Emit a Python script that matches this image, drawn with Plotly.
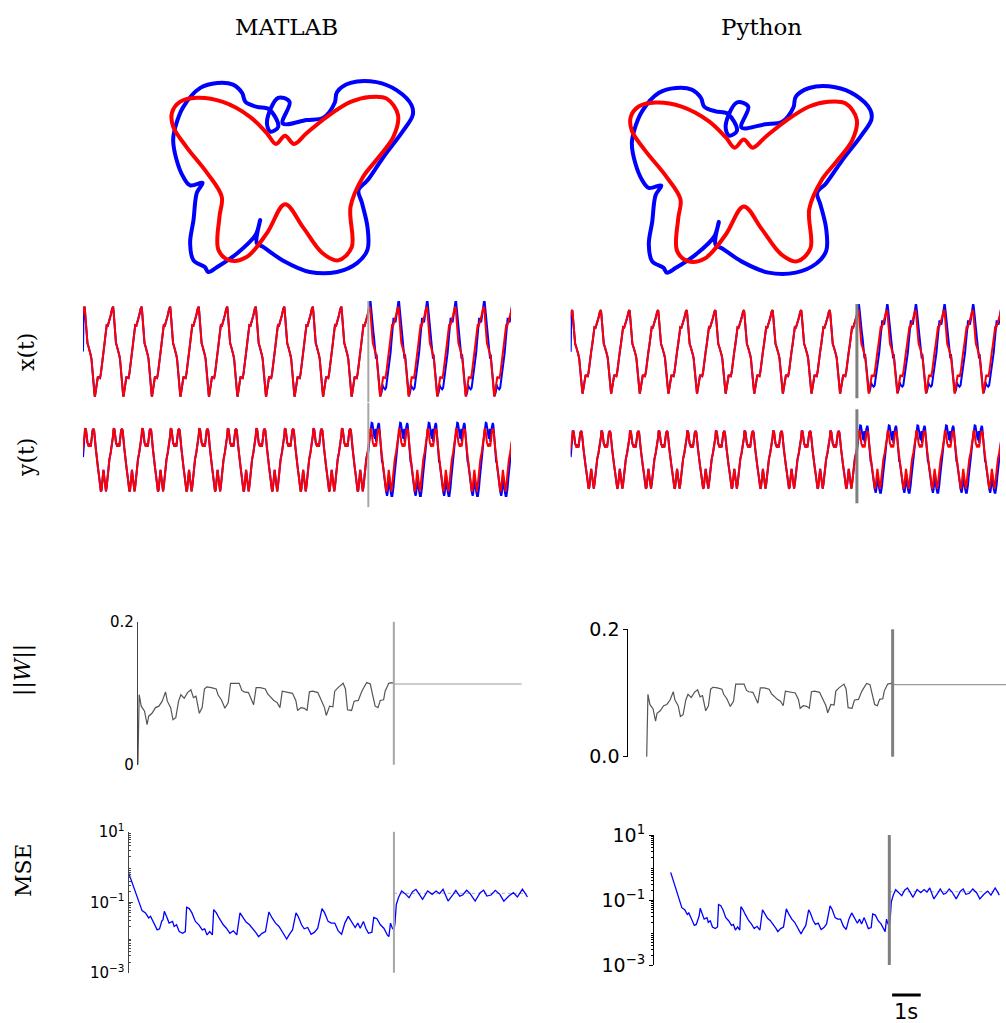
import plotly.graph_objects as go

FIG_W, FIG_H = 1006, 1023

# ---------------- data ----------------
COLUMN_TITLES = ["MATLAB", "Python"]
ROW_LABELS = ["x(t)", "y(t)", "||<i>W</i>||", "MSE"]

T_TRAIN = 10.0      # s, end of the training phase
T_END = 15.0        # s, end of the run
TIP_T0 = 0.056      # s, time of the first maximum of x(t)

# target trajectory (red), one 1 s period; phase in cycles
TARGET_PHASE = [0.000, 0.015, 0.035, 0.052, 0.070, 0.100, 0.150, 0.190, 0.215, 0.240,
                0.258, 0.280, 0.310, 0.333, 0.355, 0.365, 0.390, 0.420, 0.465, 0.500,
                0.540, 0.570, 0.593, 0.625, 0.660, 0.695, 0.725, 0.750, 0.775, 0.815,
                0.870, 0.915, 0.965]
TARGET_X = [1.00, 0.90, 0.75, 0.58, 0.37, 0.19, 0.08, 0.00, -0.08, -0.16,
            -0.31, -0.55, -0.78, -0.93, -1.00, -0.99, -0.87, -0.69, -0.56, -0.58,
            -0.59, -0.49, -0.34, -0.16, 0.00, 0.16, 0.33, 0.47, 0.59, 0.58,
            0.69, 0.81, 0.96]
TARGET_Y = [0.78, 0.98, 1.00, 0.94, 0.76, 0.56, 0.43, 0.53, 0.43, 0.56,
            0.76, 0.94, 0.99, 0.94, 0.81, 0.64, 0.39, 0.08, -0.21, -0.45,
            -0.85, -0.98, -0.94, -0.65, -0.30, -0.58, -0.89, -0.98, -0.82, -0.33,
            0.03, 0.24, 0.52]

# network output during the test phase (blue), one period
OUTPUT_PHASE = [0.000, 0.020, 0.040, 0.060, 0.085, 0.105, 0.120, 0.140, 0.160, 0.180,
                0.190, 0.200, 0.210, 0.220, 0.230, 0.240, 0.250, 0.262, 0.272, 0.285,
                0.305, 0.325, 0.345, 0.360, 0.372, 0.390, 0.410, 0.425, 0.440, 0.455,
                0.490, 0.530, 0.565, 0.585, 0.600, 0.615, 0.645, 0.665, 0.675, 0.685,
                0.700, 0.725, 0.755, 0.785, 0.805, 0.825, 0.850, 0.875, 0.895, 0.915,
                0.945, 0.975]
OUTPUT_X = [1.13, 1.12, 0.99, 0.81, 0.58, 0.46, 0.44, 0.34, 0.19, -0.02,
            0.04, -0.06, -0.16, -0.13, -0.06, -0.14, -0.25, -0.35, -0.38, -0.46,
            -0.60, -0.75, -0.90, -0.97, -0.99, -0.96, -0.90, -0.84, -0.73, -0.78,
            -0.81, -0.84, -0.81, -0.71, -0.68, -0.60, -0.42, -0.26, -0.22, -0.25,
            -0.19, -0.02, 0.22, 0.46, 0.64, 0.73, 0.73, 0.68, 0.65, 0.73,
            0.87, 1.04]
OUTPUT_Y = [0.78, 0.90, 1.08, 1.18, 1.17, 1.06, 0.93, 0.75, 0.72, 0.68,
            0.94, 0.99, 0.70, 0.58, 0.64, 0.85, 0.88, 0.94, 1.05, 1.15,
            1.17, 1.11, 0.88, 0.64, 0.48, 0.24, 0.03, -0.07, -0.04, -0.16,
            -0.49, -0.77, -0.98, -1.06, -1.12, -1.06, -0.89, -0.67, -0.49, -0.77,
            -0.82, -0.98, -1.12, -1.12, -1.01, -0.85, -0.58, -0.28, -0.13, -0.01,
            0.27, 0.58]
OUTPUT_X0, OUTPUT_Y0 = 0.0, 0.10

# norm of the readout weights during training
W_TIME = [0, 0.05, 0.13, 0.26, 0.36, 0.42, 0.55, 0.69, 0.82, 0.95, 1.08, 1.15, 1.28, 1.37,
          1.48, 1.59, 1.68, 1.81, 1.94, 2.07, 2.17, 2.27, 2.40, 2.51, 2.60, 2.69, 2.87,
          3.00, 3.06, 3.13, 3.26, 3.40, 3.53, 3.62, 3.79, 3.96, 4.06, 4.15, 4.32, 4.45,
          4.52, 4.62, 4.78, 4.98, 5.07, 5.18, 5.31, 5.44, 5.55, 5.64, 5.84, 6.04, 6.17,
          6.24, 6.37, 6.50, 6.61, 6.70, 6.83, 7.03, 7.13, 7.29, 7.36, 7.49, 7.62, 7.69,
          7.82, 8.02, 8.11, 8.19, 8.35, 8.45, 8.61, 8.75, 8.94, 9.08, 9.14, 9.27, 9.38,
          9.47, 9.60, 9.66, 9.80, 9.93, 10.0]
W_NORM = [0.0, 0.098, 0.082, 0.075, 0.056, 0.068, 0.072, 0.080, 0.082, 0.089, 0.102,
          0.089, 0.080, 0.063, 0.066, 0.089, 0.098, 0.093, 0.101, 0.105, 0.094, 0.096,
          0.072, 0.080, 0.106, 0.109, 0.108, 0.107, 0.106, 0.098, 0.091, 0.079, 0.087,
          0.114, 0.114, 0.114, 0.104, 0.102, 0.101, 0.090, 0.084, 0.108, 0.108, 0.106,
          0.099, 0.095, 0.090, 0.087, 0.080, 0.103, 0.102, 0.100, 0.090, 0.076, 0.080,
          0.079, 0.076, 0.102, 0.103, 0.101, 0.093, 0.080, 0.069, 0.082, 0.081, 0.103,
          0.108, 0.114, 0.106, 0.077, 0.076, 0.089, 0.090, 0.103, 0.115, 0.113, 0.103,
          0.082, 0.080, 0.090, 0.091, 0.103, 0.114, 0.115, 0.114]
W_TEST = 0.113

# mean squared error of the output
MSE_TIME = [0.00, 0.13, 0.25, 0.38, 0.51, 0.64, 0.76, 0.83, 0.96, 1.08, 1.17, 1.25, 1.30,
            1.35, 1.43, 1.53, 1.66, 1.72, 1.81, 1.91, 2.04, 2.14, 2.19, 2.29, 2.39, 2.52,
            2.65, 2.78, 2.87, 2.96, 3.06, 3.16, 3.21, 3.31, 3.41, 3.57, 3.69, 3.82, 3.95,
            4.08, 4.20, 4.31, 4.43, 4.56, 4.69, 4.82, 4.90, 5.03, 5.16, 5.29, 5.41, 5.54,
            5.67, 5.80, 5.96, 6.05, 6.18, 6.31, 6.39, 6.52, 6.62, 6.75, 6.88, 7.01, 7.13,
            7.29, 7.39, 7.52, 7.64, 7.77, 7.90, 8.03, 8.15, 8.28, 8.41, 8.54, 8.64, 8.73,
            8.85, 8.94, 9.04, 9.17, 9.24, 9.36, 9.49, 9.62, 9.75, 9.81, 9.87, 9.94, 10.00,
            10.04, 10.09, 10.17, 10.29, 10.42, 10.57, 10.70, 10.83, 10.96, 11.08, 11.27,
            11.44, 11.59, 11.72, 11.85, 12.04, 12.23, 12.33, 12.48, 12.59, 12.74, 12.87,
            13.06, 13.25, 13.38, 13.50, 13.66, 13.82, 13.99, 14.14, 14.33, 14.50, 14.65,
            14.84, 14.97, 15.03]
MSE_VALUE = [0.706, 0.364, 0.188, 0.108, 0.058, 0.050, 0.036, 0.040, 0.026, 0.0165, 0.0177,
             0.0287, 0.0321, 0.0557, 0.040, 0.0257, 0.0287, 0.0206, 0.0230, 0.0148, 0.0132,
             0.0148, 0.0726, 0.0665, 0.050, 0.0287, 0.0230, 0.0165, 0.0177, 0.0119, 0.0148,
             0.0119, 0.0622, 0.050, 0.036, 0.023, 0.0184, 0.0132, 0.0155, 0.0119, 0.050,
             0.036, 0.0275, 0.023, 0.0177, 0.0132, 0.0106, 0.0132, 0.0148, 0.0533, 0.036,
             0.0257, 0.0206, 0.0148, 0.0091, 0.0119, 0.0165, 0.050, 0.040, 0.023, 0.0177,
             0.0193, 0.0124, 0.0142, 0.0184, 0.0665, 0.050, 0.0287, 0.0257, 0.0257, 0.0155,
             0.0124, 0.0257, 0.040, 0.0287, 0.0193, 0.0257, 0.0184, 0.0287, 0.0184, 0.0132,
             0.0142, 0.0374, 0.0343, 0.023, 0.0184, 0.0119, 0.0106, 0.0257, 0.0184, 0.0165,
             0.0257, 0.0867, 0.135, 0.209, 0.176, 0.135, 0.200, 0.234, 0.168, 0.121, 0.209,
             0.168, 0.209, 0.176, 0.234, 0.108, 0.168, 0.219, 0.150, 0.161, 0.219, 0.176,
             0.108, 0.188, 0.219, 0.150, 0.161, 0.219, 0.168, 0.108, 0.150, 0.188, 0.141,
             0.234, 0.168, 0.141]
MSE_TEST_MEAN = 0.18

SCALE_BAR_S = 1.0
SCALE_BAR_LABEL = "1s"


# ---------------- series built from the data ----------------
def tile(phase, vals, t_from, t_to):
    ts, vs = [], []
    for k in range(-2, 17):
        for p, v in zip(phase, vals):
            t = k + TIP_T0 + p
            if t_from <= t <= t_to:
                ts.append(t)
                vs.append(v)
    return ts, vs


t_red, x_red = tile(TARGET_PHASE, TARGET_X, -0.3, T_END + 0.3)
_, y_red = tile(TARGET_PHASE, TARGET_Y, -0.3, T_END + 0.3)
t_tr, x_tr = tile(TARGET_PHASE, TARGET_X, 0.02, T_TRAIN)
_, y_tr = tile(TARGET_PHASE, TARGET_Y, 0.02, T_TRAIN)
t_te, x_te = tile(OUTPUT_PHASE, OUTPUT_X, T_TRAIN, T_END + 0.3)
_, y_te = tile(OUTPUT_PHASE, OUTPUT_Y, T_TRAIN, T_END + 0.3)
t_blue = [0.0] + t_tr + t_te
x_blue = [OUTPUT_X0] + x_tr + x_te
y_blue = [OUTPUT_Y0] + y_tr + y_te

w_train_t = [t for t in W_TIME if t <= T_TRAIN]
w_train_v = W_NORM[:len(w_train_t)]


# ---------------- layout helpers ----------------
def fx(p):
    return p / FIG_W


def fy(p):
    return 1 - p / FIG_H


RED = "#ff0000"
BLUE = "#0000ff"
SERIF = "DejaVu Serif"
SANS = "DejaVu Sans"

# panel geometry per column (pixels) and axis ranges
PANELS = {
    0: dict(bx=(150, 430), by=(70, 290), bxr=[-1.195, 1.283], byr=[-1.339, 1.327],
            tsx=(83.0, 511.0),
            xty=(301, 402.2), xtr=[-1.127, 1.127],
            yty=(403, 507.1), ytr=[-1.472, 1.801],
            wx=(137.9, 521.8), wxr=[0, 15], wy=(621.8, 764.8),
            mx=(128.5, 529.3), mxr=[0, 15.1], my=(831.8, 972.8),
            ticks="inside", tickfont=15, wtext=["0", "0.2"],
            vcol="#a6a6a6", vw=2, spine="#444444"),
    1: dict(bx=(600, 900), by=(70, 290), bxr=[-1.272, 1.383], byr=[-1.335, 1.393],
            tsx=(570.7, 1000.0),
            xty=(304, 398.3), xtr=[-1.120, 1.144],
            yty=(409.3, 503.3), ytr=[-1.478, 1.730],
            wx=(628.3, 1006), wxr=[-0.748, 14.61], wy=(629.3, 756.7),
            mx=(654, 1003), mxr=[-0.764, 15.2], my=(835, 965),
            ticks="outside", tickfont=19, wtext=["0.0", "0.2"],
            vcol="#7f7f7f", vw=3, spine="#000000"),
}

fig = go.Figure()
layout = dict(width=FIG_W, height=FIG_H,
              margin=dict(l=0, r=0, t=0, b=0, pad=0, autoexpand=False),
              paper_bgcolor="white", plot_bgcolor="white", showlegend=False)
shapes, annotations = [], []
idx = [0]


def new_axes(xdom, ydom, xr, yr, yaxis_extra=None, ylog=False):
    idx[0] += 1
    i = idx[0]
    xn = "xaxis" if i == 1 else f"xaxis{i}"
    yn = "yaxis" if i == 1 else f"yaxis{i}"
    xs = "x" if i == 1 else f"x{i}"
    ys = "y" if i == 1 else f"y{i}"
    layout[xn] = dict(domain=[fx(xdom[0]), fx(xdom[1])], range=xr, visible=False,
                      anchor=ys, fixedrange=True, automargin=False)
    ya = dict(domain=[fy(ydom[1]), fy(ydom[0])], range=yr, visible=False,
              anchor=xs, fixedrange=True, showgrid=False, zeroline=False, automargin=False)
    if ylog:
        ya["type"] = "log"
    if yaxis_extra:
        ya.update(yaxis_extra)
    layout[yn] = ya
    return xs, ys


def line(xs, ys, x, y, color, width, shape="linear", dash="solid"):
    fig.add_trace(go.Scatter(x=x, y=y, xaxis=xs, yaxis=ys, mode="lines",
                             line=dict(color=color, width=width, shape=shape, dash=dash),
                             hoverinfo="skip"))


def vline(xs, ys, t, color, width):
    shapes.append(dict(type="line", xref=xs, yref=f"{ys} domain", x0=t, x1=t, y0=0, y1=1,
                       line=dict(color=color, width=width), layer="above"))


ts_axes = {}
for c in (0, 1):
    P = PANELS[c]
    # butterfly
    xs, ys = new_axes(P["bx"], P["by"], P["bxr"], P["byr"])
    line(xs, ys, OUTPUT_X + OUTPUT_X[:1], OUTPUT_Y + OUTPUT_Y[:1], BLUE, 4, "spline")
    line(xs, ys, TARGET_X + TARGET_X[:1], TARGET_Y + TARGET_Y[:1], RED, 4, "spline")

    # x(t)
    xs, ys = new_axes(P["tsx"], P["xty"], [0, T_END], P["xtr"])
    ts_axes[c] = xs
    line(xs, ys, t_blue, x_blue, BLUE, 2)
    line(xs, ys, t_red, x_red, RED, 2)
    vline(xs, ys, T_TRAIN, P["vcol"], P["vw"])

    # y(t)
    xs, ys = new_axes(P["tsx"], P["yty"], [0, T_END], P["ytr"])
    line(xs, ys, t_blue, y_blue, BLUE, 2)
    line(xs, ys, t_red, y_red, RED, 2)
    vline(xs, ys, T_TRAIN, P["vcol"], P["vw"])

    # ||W||
    yextra = dict(visible=True, showline=True, linecolor=P["spine"], linewidth=1,
                  ticks=P["ticks"], ticklen=4, tickcolor=P["spine"],
                  tickvals=[0, 0.2], ticktext=P["wtext"],
                  tickfont=dict(family=SANS, size=P["tickfont"], color="black"))
    xs, ys = new_axes(P["wx"], P["wy"], P["wxr"], [0, 0.2], yextra)
    line(xs, ys, [T_TRAIN, T_END], [W_TEST, W_TEST], "#9a9a9a", 1.2)
    line(xs, ys, w_train_t, w_train_v, "#555555", 1.2)
    vline(xs, ys, T_TRAIN, P["vcol"], P["vw"])

    # MSE
    minor_vals = [m * 10 ** e for e in range(-3, 1) for m in range(2, 10)]
    yextra = dict(visible=True, showline=True, linecolor=P["spine"], linewidth=1,
                  ticks=P["ticks"], ticklen=4, tickcolor=P["spine"],
                  tickvals=[1e-3, 1e-1, 1e1],
                  ticktext=["10<sup>\u22123</sup>", "10<sup>\u22121</sup>", "10<sup>1</sup>"],
                  tickfont=dict(family=SANS, size=P["tickfont"], color="black"),
                  minor=dict(tickvals=minor_vals, ticks=P["ticks"], ticklen=2,
                             tickcolor=P["spine"]))
    xs, ys = new_axes(P["mx"], P["my"], P["mxr"], [-3, 1], yextra, ylog=True)
    line(xs, ys, [T_TRAIN, T_END], [MSE_TEST_MEAN, MSE_TEST_MEAN], "#aaaaaa", 1, dash="dot")
    line(xs, ys, MSE_TIME, MSE_VALUE, BLUE, 1.3)
    vline(xs, ys, T_TRAIN, P["vcol"], P["vw"])

# column titles
for c, (title, cx) in enumerate(zip(COLUMN_TITLES, (286.7, 761.5))):
    annotations.append(dict(text=title, x=fx(cx), y=fy(27), xref="paper", yref="paper",
                            showarrow=False, xanchor="center", yanchor="middle",
                            font=dict(family=SERIF, size=23, color="black")))

# row labels
for lab, (lx, ly) in zip(ROW_LABELS, [(26, 352), (26, 458), (23, 670), (23, 870)]):
    annotations.append(dict(text=lab, x=fx(lx), y=fy(ly), xref="paper", yref="paper",
                            showarrow=False, xanchor="center", yanchor="middle", textangle=-90,
                            font=dict(family=SERIF, size=22, color="black")))

# scale bar (in the time units of the right-hand x(t) panel)
bar_t0 = 11.23
shapes.append(dict(type="line", xref=ts_axes[1], yref="paper", x0=bar_t0, x1=bar_t0 + SCALE_BAR_S,
                   y0=fy(995), y1=fy(995), line=dict(color="black", width=3)))
annotations.append(dict(text=SCALE_BAR_LABEL, x=bar_t0 + SCALE_BAR_S / 2, y=fy(1012),
                        xref=ts_axes[1], yref="paper", showarrow=False,
                        xanchor="center", yanchor="middle",
                        font=dict(family=SANS, size=21, color="black")))

layout["shapes"] = shapes
layout["annotations"] = annotations
fig.update_layout(**layout)
fig.write_html("out.html", config={"displayModeBar": False, "staticPlot": True},
               post_script="document.body.style.margin='0';")
